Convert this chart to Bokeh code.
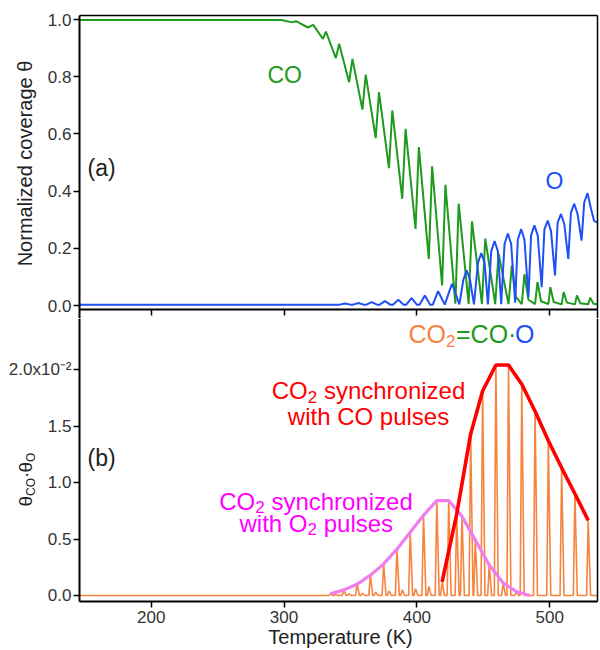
import math
from bokeh.plotting import figure
from bokeh.models import Range1d, Label, LinearAxis, FixedTicker, NumeralTickFormatter
from bokeh.layouts import column
from bokeh.embed import file_html
from bokeh.resources import INLINE

# ---------------- data ----------------
# (a) normalized CO coverage: turning points of the oscillating curve
co_T = [146, 298, 306, 309, 318, 322, 329.3, 331.5, 339, 341.5, 349, 351.5, 359, 361.5,
        369, 371.5, 379, 381.5, 389, 391.5, 399, 401.5, 409, 411.5, 419, 421.5,
        429, 431.5, 439, 441.5, 449, 451.5, 459, 461.5, 469, 471.5,
        474.5, 479, 481, 484, 489, 490.8, 493.5, 499, 500.5, 503, 509, 510.5, 513,
        519, 520.5, 523, 529, 530.5, 533, 536]
co_theta = [0.998, 0.998, 0.990, 0.994, 0.972, 0.981, 0.932, 0.958, 0.865, 0.915, 0.781, 0.862,
            0.685, 0.807, 0.585, 0.746, 0.480, 0.682, 0.373, 0.618, 0.268, 0.554, 0.163, 0.487,
            0.070, 0.422, 0.006, 0.356, 0.005, 0.294, 0.005, 0.234, 0.005, 0.182, 0.005, 0.140,
            0.030, 0.005, 0.110, 0.020, 0.005, 0.082, 0.015, 0.005, 0.064, 0.012, 0.004, 0.047,
            0.010, 0.004, 0.035, 0.008, 0.004, 0.027, 0.006, 0.004]

# (a) normalized O coverage: turning points (with shoulders of the rounded peaks)
o_T = [146, 342, 346, 350, 352, 356, 360, 362, 366, 370, 372, 376, 380, 382, 386, 390, 392,
       396, 400, 402, 406, 410, 412, 416,
       421, 424.5, 426.5, 428.5, 432,
       435, 437.5, 440, 443,
       446, 448.5, 451, 453.5,
       456, 458.5, 461, 463.5,
       466, 468.5, 471, 474,
       476, 478.5, 481, 484,
       486, 488.5, 491, 494,
       496, 498.5, 501, 504,
       506, 508.5, 511, 514,
       516, 518.5, 521, 524,
       526, 528.5, 531, 533.5, 536]
o_theta = [0.003, 0.003, 0.007, 0.003, 0.003, 0.009, 0.003, 0.003, 0.012, 0.003, 0.003, 0.015,
           0.003, 0.003, 0.020, 0.003, 0.003, 0.026, 0.003, 0.003, 0.035, 0.003, 0.003, 0.050,
           0.003, 0.050, 0.076, 0.050, 0.004,
           0.090, 0.123, 0.090, 0.004,
           0.150, 0.183, 0.150, 0.004,
           0.190, 0.225, 0.190, 0.005,
           0.215, 0.252, 0.215, 0.010,
           0.230, 0.267, 0.230, 0.029,
           0.245, 0.280, 0.245, 0.064,
           0.265, 0.297, 0.260, 0.105,
           0.290, 0.320, 0.285, 0.163,
           0.325, 0.356, 0.320, 0.227,
           0.360, 0.393, 0.340, 0.295, 0.291]

# (b) theta_CO * theta_O (units of 1e-2): CO2 spikes synchronized with CO pulses
co_sync_T = [419, 430, 440.5, 449.5, 459.5, 469, 479, 489, 499, 509, 519, 529]
co_sync_v = [0.12, 0.72, 1.43, 1.81, 2.04, 2.04, 1.87, 1.63, 1.37, 1.13, 0.90, 0.665]
# CO2 spikes synchronized with O2 pulses
o2_sync_T = [335, 345, 355, 365, 375, 385, 395, 405, 415, 424, 434, 444, 454.5, 465, 475, 485]
o2_sync_v = [0.015, 0.05, 0.10, 0.18, 0.28, 0.41, 0.56, 0.71, 0.84, 0.84, 0.70, 0.49, 0.27,
             0.11, 0.035, 0.0]
# small early spikes at the CO pulses
early_T = [339, 349, 359, 369, 379, 389, 399, 409]
early_v = [0.01, 0.015, 0.02, 0.03, 0.04, 0.05, 0.06, 0.08]

x_ticks = [200, 300, 400, 500]
top_ticks = [0.0, 0.2, 0.4, 0.6, 0.8, 1.0]
bottom_ticks = [0.0, 0.5, 1.0, 1.5, 2.0]
bottom_overrides = {2.0: "2.0x10\u207b\u00b2"}

# ---------------- styles / geometry ----------------
GREEN = "#1e9b1e"
BLUE = "#1f50f5"
ORANGE = "#f7843e"
RED = "#ff0000"
PINK_LINE = "#f07ef0"
MAGENTA = "#ff00ff"
TXT = "#222222"
FONT = "Liberation Sans"

T_MIN, T_MAX = 146.0, 536.0          # visible panel range
W = 600
PX_L, PX_R = 79, 597                 # panel box (x, canvas px)
S = (PX_R - PX_L) / (T_MAX - T_MIN)  # px per K
X0 = T_MIN - PX_L / S
X1 = T_MAX + (W - PX_R) / S

H1, H2 = 318, 331
SPLIT = 308.5                        # shared border between the panels (px from top)

A_PX = 286.0                         # px per unit, panel (a); 1.0 sits at 19 px
def a_val(py):
    return 1.0 - (py - 19) / A_PX

B_PX = 113.0                         # px per unit, panel (b); 2.0 sits at 369 px
def b_val(py):
    return 2.0 - (py - 369) / B_PX

A_TOP, A_BOT = a_val(0), a_val(H1)
A_HI, A_LO = a_val(15), a_val(SPLIT)
B_TOP, B_BOT = b_val(H1), b_val(H1 + H2)
B_LO = b_val(601)

SPIKE_L, SPIKE_R = 1.2, 1.8


def t_at(px):
    return X0 + px / S


def axis(fixed, ticks, bounds, tick_in=0, tick_out=6, line_w=2.0, fmt=None, overrides=None,
         show_labels=True, standoff=2):
    ax = LinearAxis(fixed_location=fixed, ticker=FixedTicker(ticks=ticks), bounds=bounds)
    ax.axis_line_color = "black"
    ax.axis_line_width = line_w
    ax.major_tick_line_color = "black"
    ax.major_tick_line_width = 1.5
    ax.major_tick_in = tick_in
    ax.major_tick_out = tick_out
    ax.minor_tick_line_color = None
    ax.major_label_text_font = FONT
    ax.major_label_text_font_size = "17px" if show_labels else "0px"
    ax.major_label_text_color = "#333333" if show_labels else None
    ax.major_label_standoff = standoff
    if fmt is not None:
        ax.formatter = fmt
    if overrides is not None:
        ax.major_label_overrides = overrides
    return ax


def lab(p, x, y, text, color, size, align="left", angle=0.0, xoff=0.0):
    p.add_layout(Label(x=x, y=y, text=text, text_color=color, text_font=FONT,
                       text_font_size=f"{size}px", text_align=align,
                       text_baseline="middle", angle=angle, x_offset=xoff))


def base_fig(height, y0, y1, x_range):
    p = figure(width=W, height=height, x_range=x_range, y_range=Range1d(y0, y1),
               output_backend="svg", toolbar_location=None,
               x_axis_location=None, y_axis_location=None,
               min_border=0, min_border_left=0, min_border_right=0,
               min_border_top=0, min_border_bottom=0)
    p.grid.visible = False
    p.outline_line_color = None
    p.background_fill_color = "white"
    p.border_fill_color = "white"
    return p


xr = Range1d(X0, X1)

# ---------------- panel (a) ----------------
p1 = base_fig(H1, A_BOT, A_TOP, xr)
p1.line(co_T, co_theta, color=GREEN, line_width=2)
p1.line(o_T, o_theta, color=BLUE, line_width=2)

p1.add_layout(axis(T_MIN, top_ticks, (A_BOT, A_HI), fmt=NumeralTickFormatter(format="0.0")), "left")
p1.add_layout(axis(A_HI, [], (T_MIN, T_MAX), tick_out=0, line_w=1.5, show_labels=False), "above")
p1.add_layout(axis(A_LO, x_ticks, (T_MIN, T_MAX), tick_out=6, line_w=2.0, show_labels=False), "below")
p1.add_layout(axis(T_MAX, [], (A_BOT, A_HI), tick_out=0, line_w=1.5, show_labels=False), "right")

lab(p1, t_at(267), a_val(74), "CO", GREEN, 23)
lab(p1, t_at(545), a_val(180), "O", BLUE, 23)
lab(p1, t_at(87), a_val(167), "(a)", TXT, 23)
lab(p1, t_at(24), a_val(163), "Normalized coverage \u03b8", TXT, 20, align="center",
    angle=math.pi / 2)

# ---------------- panel (b) ----------------
p2 = base_fig(H2, B_BOT, B_TOP, xr)

spikes = sorted([(t, v) for t, v in zip(co_sync_T + o2_sync_T + early_T,
                                        co_sync_v + o2_sync_v + early_v) if v > 0])
sx = [T_MIN]
sy = [0.0]
for t, v in spikes:
    sx += [t - SPIKE_L, t, t + SPIKE_R]
    sy += [0.0, v, 0.0]
sx.append(T_MAX)
sy.append(0.0)
p2.line(sx, sy, color=ORANGE, line_width=1.6)
p2.line(o2_sync_T, o2_sync_v, color=PINK_LINE, line_width=3.2)
p2.line(co_sync_T, co_sync_v, color=RED, line_width=3.6)

p2.add_layout(axis(T_MIN, bottom_ticks, (B_LO, B_TOP), fmt=NumeralTickFormatter(format="0.0"),
                   overrides=bottom_overrides), "left")
p2.add_layout(axis(B_LO, x_ticks, (T_MIN, T_MAX), standoff=3), "below")
p2.add_layout(axis(T_MAX, [], (B_LO, B_TOP), tick_out=0, line_w=1.5, show_labels=False), "right")

# "CO2 = CO . O"
xc = t_at(408)
lab(p2, xc, b_val(333.5), "CO", ORANGE, 25)
lab(p2, xc, b_val(340), "2", ORANGE, 17, xoff=37.5)
lab(p2, xc, b_val(333.5), "=CO\u00b7", GREEN, 25, xoff=47.5)
lab(p2, xc, b_val(333.5), "O", BLUE, 25, xoff=106.5)

# red caption
xr_c = t_at(368)
lab(p2, xr_c, b_val(390), "CO", RED, 24, xoff=-96.75)
lab(p2, xr_c, b_val(396), "2", RED, 17, xoff=-60.75)
lab(p2, xr_c, b_val(390), "synchronized", RED, 24, xoff=-44.6)
lab(p2, xr_c, b_val(415.5), "with CO pulses", RED, 24, align="center")

# magenta caption
xm_c = t_at(315.5)
lab(p2, xm_c, b_val(500.5), "CO", MAGENTA, 24, xoff=-96.75)
lab(p2, xm_c, b_val(506.5), "2", MAGENTA, 17, xoff=-60.75)
lab(p2, xm_c, b_val(500.5), "synchronized", MAGENTA, 24, xoff=-44.6)
lab(p2, xm_c, b_val(522.5), "with O", MAGENTA, 24, xoff=-76.5)
lab(p2, xm_c, b_val(528.5), "2", MAGENTA, 17, xoff=-8.5)
lab(p2, xm_c, b_val(522.5), "pulses", MAGENTA, 24, xoff=7.7)

lab(p2, t_at(87), b_val(457), "(b)", TXT, 23)

# y label theta_CO . theta_O (rotated, composed, reading upwards)
A = math.pi / 2
xm = t_at(25)
xs = t_at(30)
lab(p2, xm, b_val(506), "\u03b8", TXT, 19, angle=A)
lab(p2, xs, b_val(506 - 10.6), "CO", TXT, 12, angle=A)
lab(p2, xm, b_val(506 - 28.6), "\u00b7", TXT, 19, angle=A)
lab(p2, xm, b_val(506 - 33.9), "\u03b8", TXT, 19, angle=A)
lab(p2, xs, b_val(506 - 44.5), "O", TXT, 12, angle=A)

# x label
lab(p2, t_at(340), b_val(636), "Temperature (K)", TXT, 20, align="center")

layout = column(p1, p2, spacing=0)
open("out.html", "w").write(file_html(layout, INLINE))
